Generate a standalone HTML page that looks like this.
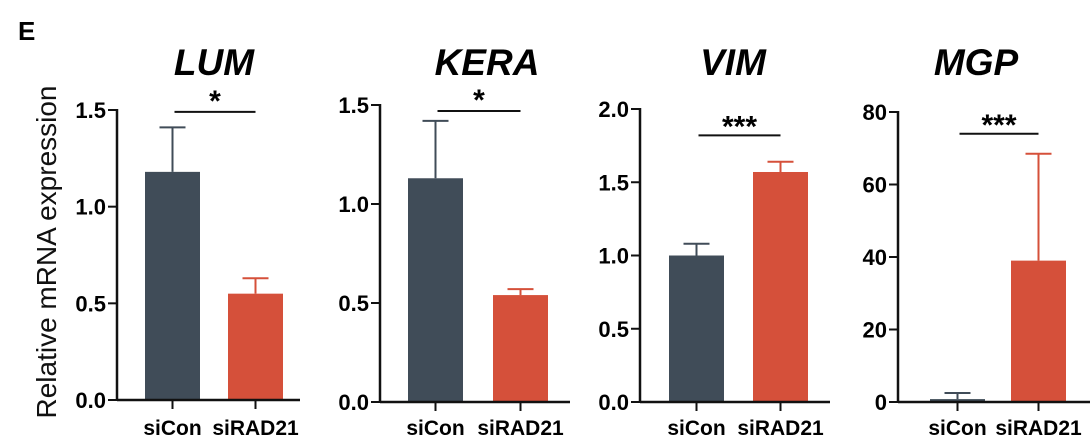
<!DOCTYPE html>
<html><head><meta charset="utf-8"><style>
html,body{margin:0;padding:0;background:#fff;}
svg{display:block;font-family:"Liberation Sans",Arial,sans-serif;}
</style></head><body>
<svg id="fig" width="1090" height="438" viewBox="0 0 1090 438">
<text x="18" y="40" font-size="26" font-weight="bold">E</text>
<text transform="translate(56,252) rotate(-90)" text-anchor="middle" font-size="28" fill="#111">Relative mRNA expression</text>
<g id="charts"></g>
</svg>
<script>
const genes = ["LUM","KERA","VIM","MGP"];
const categories = ["siCon","siRAD21"];
const lumValues = [1.18, 0.55];
const lumErrors = [1.41, 0.63];
const keraValues = [1.13, 0.54];
const keraErrors = [1.42, 0.57];
const vimValues = [1.0, 1.57];
const vimErrors = [1.08, 1.64];
const mgpValues = [0.8, 39];
const mgpErrors = [2.5, 68.5];
const lumTicks = ["0.0","0.5","1.0","1.5"];
const keraTicks = ["0.0","0.5","1.0","1.5"];
const vimTicks = ["0.0","0.5","1.0","1.5","2.0"];
const mgpTicks = ["0","20","40","60","80"];
const sigLabels = ["*","*","***","***"];
const sigLevels = [1.49, 1.47, 1.82, 74];

const NS="http://www.w3.org/2000/svg";
const root=document.getElementById('charts');
function mk(tag,attrs,parent){const e=document.createElementNS(NS,tag);for(const k in attrs)e.setAttribute(k,attrs[k]);(parent||root).appendChild(e);return e;}
const layout=[
 {ax:117,y0:400,yTop:110,right:300,titleX:214,b0:145,b1:228},
 {ax:380,y0:402,yTop:105,right:570,titleX:487,b0:408,b1:493},
 {ax:640,y0:402,yTop:109,right:830,titleX:733,b0:669,b1:753},
 {ax:898,y0:402,yTop:112,right:1090,titleX:976,b0:930,b1:1011}
];
const values=[lumValues,keraValues,vimValues,mgpValues];
const errors=[lumErrors,keraErrors,vimErrors,mgpErrors];
const ticks=[lumTicks,keraTicks,vimTicks,mgpTicks];
const colors=["#404c58","#d5503a"];
const bw=55;
genes.forEach((g,i)=>{
  const L=layout[i];
  const tk=ticks[i];
  const tmax=parseFloat(tk[tk.length-1]);
  const y=v=>L.y0-(v/tmax)*(L.y0-L.yTop);
  const grp=mk('g',{});
  
  
  const t=mk('text',{x:L.titleX,y:75,'text-anchor':'middle','font-size':37,'font-weight':'bold','font-style':'italic'},grp);
  t.textContent=g;
  
  
  categories.forEach((c,j)=>{
    const bx=j?L.b1:L.b0;
    const cx=bx+bw/2;
    const v=values[i][j], e=errors[i][j];
    const err=mk('path',{d:`M${cx} ${y(v)}V${y(e)}M${cx-13} ${y(e)}H${cx+13}`,stroke:colors[j],'stroke-width':2,fill:'none'},grp);
    
    
    const r=mk('rect',{x:bx,y:y(v),width:bw,height:Math.max(L.y0-y(v),2),fill:colors[j]},grp);
    
    
    const tm=mk('line',{x1:cx,x2:cx,y1:L.y0,y2:L.y0+9,stroke:'#111','stroke-width':2},grp);
    
    
    const lb=mk('text',{x:cx,y:435,'text-anchor':'middle','font-size':21,'font-weight':'bold'},grp);
    lb.textContent=c;
    
    
  });
  const ya=mk('line',{x1:L.ax,x2:L.ax,y1:L.yTop-1,y2:L.y0+1,stroke:'#111','stroke-width':2.5},grp);
  
  
  const xa=mk('line',{x1:L.ax,x2:L.right,y1:L.y0,y2:L.y0,stroke:'#111','stroke-width':2.5},grp);
  
  
  tk.forEach(s=>{
    const ty=y(parseFloat(s));
    const tl=mk('line',{x1:L.ax-9,x2:L.ax,y1:ty,y2:ty,stroke:'#111','stroke-width':2},grp);
    
    
    const tt=mk('text',{x:L.ax-11,y:ty+8,'text-anchor':'end','font-size':22,'font-weight':'bold'},grp);
    tt.textContent=s;
    
    
  });
  const sy=y(sigLevels[i]);
  const x1=L.b0+bw/2+2, x2=L.b1+bw/2;
  const sl=mk('line',{x1:x1,x2:x2,y1:sy,y2:sy,stroke:'#111','stroke-width':2},grp);
  
  
  const st=mk('text',{x:(x1+x2)/2,y:sy+(sigLabels[i].length>1?1:-1),'text-anchor':'middle','font-size':30,'font-weight':'bold'},grp);
  st.textContent=sigLabels[i];
  
  
});
</script>
</body></html>
